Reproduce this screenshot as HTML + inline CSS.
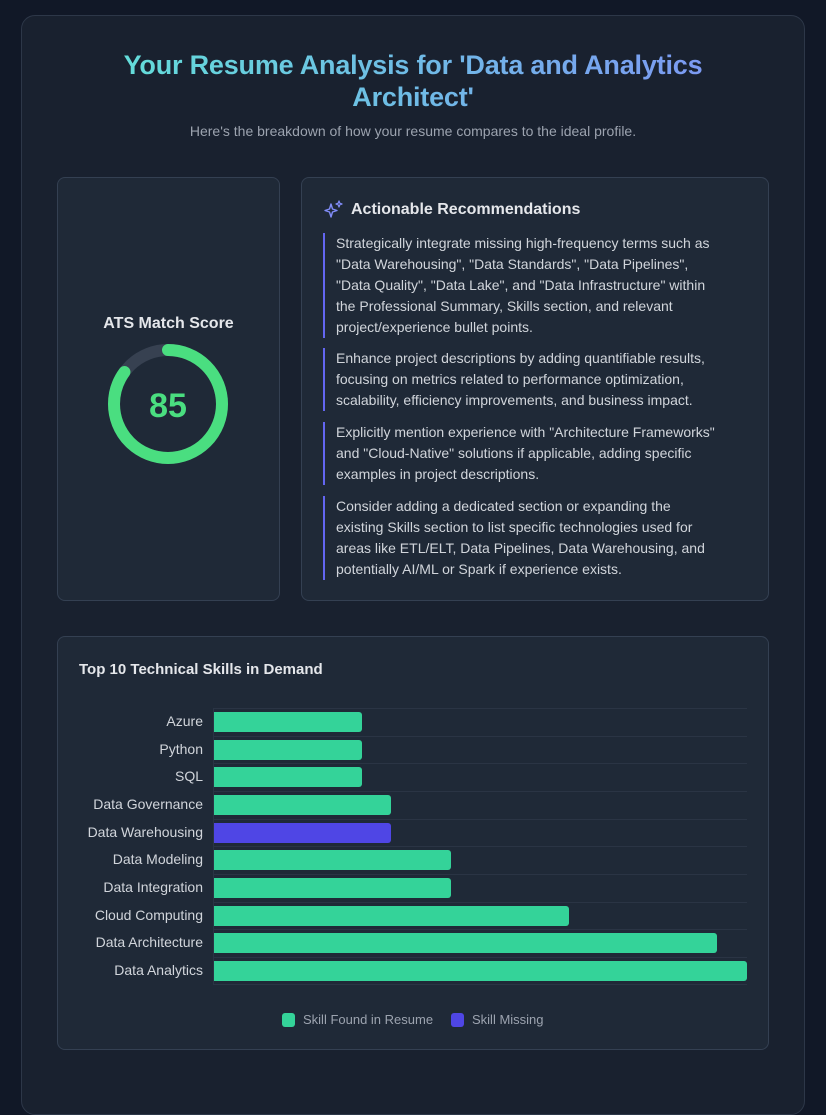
<!DOCTYPE html>
<html><head><meta charset="utf-8"><style>
*{box-sizing:border-box;margin:0;padding:0}
body{width:826px;height:1074px;background:#111827;font-family:"Liberation Sans",sans-serif;overflow:hidden;position:relative}
.wrap{position:absolute;left:21px;top:15px;width:784px;height:1100px;background:#19212f;border:1px solid #2d3748;border-radius:14px}
h1{position:absolute;left:0;top:49px;width:826px;text-align:center;font-size:27px;line-height:32px;font-weight:bold;letter-spacing:-0.2px;background:linear-gradient(90deg,#5eead4,#818cf8);-webkit-background-clip:text;background-clip:text;color:transparent}
.sub{position:absolute;left:0;top:123px;width:826px;text-align:center;font-size:14px;color:#9ca3af}
.card{position:absolute;background:#1f2937;border:1px solid #344052;border-radius:8px}
.rec{position:absolute;left:323px;width:397px;border-left:2px solid #6366f1;padding-left:11px;font-size:14px;line-height:21px;color:#d1d5db}
.lbl{position:absolute;right:623px;font-size:14px;color:#d1d5db;text-align:right;white-space:nowrap}
.bar{position:absolute;left:214px;height:20px;border-radius:0 3px 3px 0;background:#34d399}
.gl{position:absolute;left:213px;width:534px;height:1px;background:#2a3444}
</style></head><body>
<div class="wrap"></div>
<h1>Your Resume Analysis for 'Data and Analytics<br>Architect'</h1>
<div class="sub">Here's the breakdown of how your resume compares to the ideal profile.</div>
<div class="card" style="left:57px;top:177px;width:223px;height:424px"></div>
<div style="position:absolute;left:57px;top:315px;width:223px;text-align:center;font-size:16px;font-weight:bold;color:#e5e7eb">ATS Match Score</div>
<svg style="position:absolute;left:104px;top:340px" width="128" height="128">
<circle cx="64" cy="64" r="54" fill="none" stroke="#374151" stroke-width="12"/>
<circle cx="64" cy="64" r="54" fill="none" stroke="#4ade80" stroke-width="12" stroke-linecap="round" stroke-dasharray="288.4 339.3" transform="rotate(-90 64 64)"/>
<text x="64" y="77" text-anchor="middle" font-family="Liberation Sans" font-weight="bold" font-size="34" fill="#4ade80">85</text>
</svg>
<div class="card" style="left:301px;top:177px;width:468px;height:424px"></div>
<svg style="position:absolute;left:324px;top:200px" width="20" height="18" viewBox="0 0 20 18"><path d="M7 4 L8.5 9 L13 10.5 L8.5 12 L7 17 L5.5 12 L1 10.5 L5.5 9 Z" fill="none" stroke="#818cf8" stroke-width="1.4" stroke-linejoin="round"/><path d="M15 1 L15.8 3.2 L18 4 L15.8 4.8 L15 7 L14.2 4.8 L12 4 L14.2 3.2 Z" fill="none" stroke="#818cf8" stroke-width="1.2" stroke-linejoin="round"/></svg>
<div style="position:absolute;left:351px;top:201px;font-size:16px;font-weight:bold;color:#e5e7eb">Actionable Recommendations</div>
<div class="rec" style="top:233px">Strategically integrate missing high-frequency terms such as "Data Warehousing", "Data Standards", "Data Pipelines", "Data Quality", "Data Lake", and "Data Infrastructure" within the Professional Summary, Skills section, and relevant project/experience bullet points.</div>
<div class="rec" style="top:348px">Enhance project descriptions by adding quantifiable results, focusing on metrics related to performance optimization, scalability, efficiency improvements, and business impact.</div>
<div class="rec" style="top:422px">Explicitly mention experience with "Architecture Frameworks" and "Cloud-Native" solutions if applicable, adding specific examples in project descriptions.</div>
<div class="rec" style="top:496px">Consider adding a dedicated section or expanding the existing Skills section to list specific technologies used for areas like ETL/ELT, Data Pipelines, Data Warehousing, and potentially AI/ML or Spark if experience exists.</div>
<div class="card" style="left:57px;top:636px;width:712px;height:414px"></div>
<div style="position:absolute;left:79px;top:661px;font-size:15px;font-weight:bold;color:#e5e7eb">Top 10 Technical Skills in Demand</div>
<div style="position:absolute;left:213px;top:708px;width:1px;height:277px;background:#2a3444"></div>
<div class="gl" style="top:708px"></div><div class="gl" style="top:736px"></div><div class="gl" style="top:763px"></div><div class="gl" style="top:791px"></div><div class="gl" style="top:819px"></div><div class="gl" style="top:846px"></div><div class="gl" style="top:874px"></div><div class="gl" style="top:902px"></div><div class="gl" style="top:929px"></div><div class="gl" style="top:957px"></div><div class="gl" style="top:984px"></div>
<div class="lbl" style="top:713px">Azure</div><div class="bar" style="top:712px;width:148px"></div>
<div class="lbl" style="top:741px">Python</div><div class="bar" style="top:740px;width:148px"></div>
<div class="lbl" style="top:768px">SQL</div><div class="bar" style="top:767px;width:148px"></div>
<div class="lbl" style="top:796px">Data Governance</div><div class="bar" style="top:795px;width:177px"></div>
<div class="lbl" style="top:824px">Data Warehousing</div><div class="bar" style="top:823px;width:177px;background:#4f46e5"></div>
<div class="lbl" style="top:851px">Data Modeling</div><div class="bar" style="top:850px;width:237px"></div>
<div class="lbl" style="top:879px">Data Integration</div><div class="bar" style="top:878px;width:237px"></div>
<div class="lbl" style="top:907px">Cloud Computing</div><div class="bar" style="top:906px;width:355px"></div>
<div class="lbl" style="top:934px">Data Architecture</div><div class="bar" style="top:933px;width:503px"></div>
<div class="lbl" style="top:962px">Data Analytics</div><div class="bar" style="top:961px;width:533px"></div>
<div style="position:absolute;left:282px;top:1013px;width:13px;height:14px;border-radius:3px;background:#34d399"></div>
<div style="position:absolute;left:303px;top:1012px;font-size:13px;color:#9ca3af">Skill Found in Resume</div>
<div style="position:absolute;left:451px;top:1013px;width:13px;height:14px;border-radius:3px;background:#4f46e5"></div>
<div style="position:absolute;left:472px;top:1012px;font-size:13px;color:#9ca3af">Skill Missing</div>
</body></html>
